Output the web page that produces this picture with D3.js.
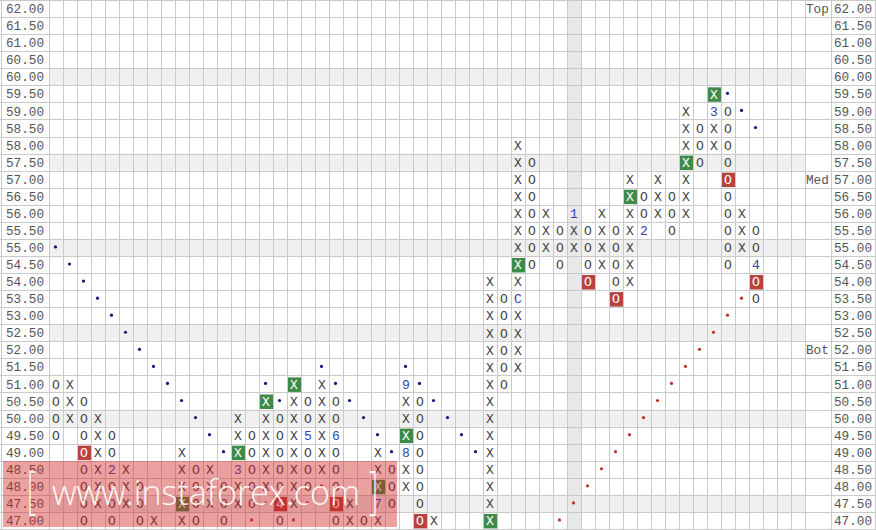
<!DOCTYPE html>
<html><head><meta charset="utf-8">
<script src="https://cdn.jsdelivr.net/npm/d3@7"></script>
<style>html,body{margin:0;padding:0;background:#fff;}svg{display:block;}</style>
</head><body><svg id="c" width="876" height="530"></svg>
<script>
// ---------- DATA ----------
const priceLabels = ["62.00","61.50","61.00","60.50","60.00","59.50","59.00","58.50","58.00","57.50","57.00","56.50","56.00","55.50","55.00","54.50","54.00","53.50","53.00","52.50","52.00","51.50","51.00","50.50","50.00","49.50","49.00","48.50","48.00","47.50","47.00"];
const highlightPrices = [60.0, 57.5, 55.0, 52.5, 50.0, 47.5];
const highlightColumns = [37];
const sideLabelText = ["Top", "Med", "Bot"];
const sideLabelPrice = [62.0, 57.0, 52.0];

// Point & figure columns
const colIndex = [0,1,2,3,4,5,6,7,9,10,11,12,13,14,15,16,17,18,19,20,21,22,23,24,25,26,27,31,32,33,34,35,36,37,38,39,40,41,42,43,44,45,46,47,48,49,50];
const colType  = ["O","X","O","X","O","X","O","X","X","O","X","O","X","O","X","O","X","O","X","O","X","O","X","O","X","O","X","X","O","X","O","X","O","X","O","X","O","X","O","X","O","X","O","X","O","X","O"];
const colLow   = [49.5,50.0,47.0,47.5,47.0,47.5,47.0,47.0,47.0,47.0,47.5,47.0,47.5,47.5,48.0,47.0,47.5,48.0,48.5,47.0,47.0,47.0,47.0,47.5,48.0,47.0,47.0,47.0,51.0,51.5,54.5,55.0,54.5,55.0,54.0,54.5,53.5,54.0,55.5,56.0,55.5,56.0,57.5,58.0,54.5,55.0,53.5];
const colHigh  = [51.0,51.0,50.5,50.0,49.5,48.5,48.0,47.0,49.0,48.5,48.5,48.0,50.0,49.5,50.5,50.0,51.0,50.5,51.0,50.5,47.5,47.0,49.0,48.5,51.0,50.5,47.0,54.0,53.5,58.0,57.5,56.0,55.5,56.0,55.5,56.0,55.5,57.0,56.5,57.0,56.5,59.0,58.5,59.5,59.0,56.0,55.5];

// Month markers (1-9, A-C)
const monthCol   = [4, 13, 16, 18, 20, 23, 25, 25, 33, 37, 42, 47, 50];
const monthPrice = [48.5, 48.5, 47.5, 49.5, 49.5, 47.5, 49.0, 51.0, 53.5, 56.0, 55.5, 59.0, 54.5];
const monthText  = ["2","3","4","5","6","7","8","9","C","1","2","3","4"];

// Highlighted boxes
const greenBoxCol   = [9, 13, 15, 17, 23, 25, 31, 33, 41, 45, 47];
const greenBoxPrice = [47.5, 49.0, 50.5, 51.0, 48.0, 49.5, 47.0, 54.5, 56.5, 57.5, 59.5];
const redBoxCol     = [2, 16, 20, 26, 38, 40, 48, 50];
const redBoxPrice   = [49.0, 47.5, 47.5, 47.0, 54.0, 53.5, 57.0, 54.0];

// Trend-line dots
const blueDotCol   = [0,1,2,3,4,5,6,7,8,9,10,11,12, 15,16, 19,20,21,22,23,24, 25,26,27,28,29,30, 48,49,50];
const blueDotPrice = [55.0,54.5,54.0,53.5,53.0,52.5,52.0,51.5,51.0,50.5,50.0,49.5,49.0, 51.0,50.5, 51.5,51.0,50.5,50.0,49.5,49.0, 51.5,51.0,50.5,50.0,49.5,49.0, 59.5,59.0,58.5];
const redDotCol    = [14,15, 17,18,19, 36,37,38,39,40,41,42,43,44,45,46,47,48,49];
const redDotPrice  = [47.0,47.5, 47.0,47.5,48.0, 47.0,47.5,48.0,48.5,49.0,49.5,50.0,50.5,51.0,51.5,52.0,52.5,53.0,53.5];

// ---------- RENDER ----------
const W = 876, H = 530, nCols = 54;
const svg = d3.select("#c");
const FONT = "'Liberation Mono','Courier New',monospace";
const prices = priceLabels.map(Number);
const step = 0.5;
const x = d3.scaleLinear().domain([0, nCols]).range([49, 805]);
const y = d3.scaleLinear().domain([d3.max(prices) + step/2, d3.min(prices) - step/2]).range([0, 529]);
const cx = k => x(k + 0.5);
const key = (c, p) => c + "_" + p.toFixed(2);

svg.append("rect").attr("width", W).attr("height", H).attr("fill", "#fff");

// highlight rows/col
svg.selectAll("rect.hr").data(highlightPrices).join("rect")
  .attr("x", x(0)).attr("width", x(nCols) - x(0))
  .attr("y", p => y(p + step/2)).attr("height", p => y(p - step/2) - y(p + step/2))
  .attr("fill", "#f0f0f0");
svg.selectAll("rect.hc").data(highlightColumns).join("rect")
  .attr("x", k => x(k)).attr("width", k => x(k + 1) - x(k))
  .attr("y", 0).attr("height", 529)
  .attr("fill", "#e8e8e8");

// grid
const grid = svg.append("g").attr("stroke", "#cacaca").attr("stroke-width", 1).attr("shape-rendering", "crispEdges");
const rowEdges = prices.map(p => y(p + step/2)).concat([y(d3.min(prices) - step/2)]);
grid.selectAll("line.h").data(rowEdges).join("line")
  .attr("x1", 0).attr("x2", W).attr("y1", d => Math.round(d) + 0.5).attr("y2", d => Math.round(d) + 0.5);
const colEdges = d3.range(nCols + 1).map(k => x(k)).concat([1, 831, 875]);
grid.selectAll("line.v").data(colEdges).join("line")
  .attr("y1", 0).attr("y2", 529.5).attr("x1", d => Math.round(d) + 0.5).attr("x2", d => Math.round(d) + 0.5);

// axis labels
const lab = svg.append("g").attr("font-family", FONT).attr("font-size", "12.7px").attr("fill", "#555");
lab.selectAll("text.l").data(priceLabels).join("text")
  .attr("x", 6).attr("y", d => y(+d) + 4.6).text(d => d);
lab.selectAll("text.r").data(priceLabels).join("text")
  .attr("x", 834).attr("y", d => y(+d) + 4.6).text(d => d);
lab.selectAll("text.s").data(sideLabelText).join("text")
  .attr("x", 806).attr("y", (d, i) => y(sideLabelPrice[i]) + 4.6).text(d => d);

// cells
const greenSet = new Set(greenBoxCol.map((c, i) => key(c, greenBoxPrice[i])));
const redSet = new Set(redBoxCol.map((c, i) => key(c, redBoxPrice[i])));
const monthMap = new Map(monthCol.map((c, i) => [key(c, monthPrice[i]), monthText[i]]));
const cells = [];
colIndex.forEach((c, i) => {
  for (let p = colLow[i]; p <= colHigh[i] + 1e-9; p += step) {
    const k = key(c, p);
    cells.push({c, p, t: colType[i], green: greenSet.has(k), red: redSet.has(k), m: monthMap.get(k)});
  }
});
svg.selectAll("rect.box").data(cells.filter(d => d.green || d.red)).join("rect")
  .attr("x", d => x(d.c) + 1).attr("width", d => x(d.c + 1) - x(d.c) - 1)
  .attr("y", d => y(d.p + step/2) + 2).attr("height", 14.5)
  .attr("fill", d => d.green ? "#3e8a4a" : "#b8433d");
svg.append("g").attr("font-family", FONT).attr("font-size", "13px").attr("text-anchor", "middle")
  .selectAll("text").data(cells).join("text")
  .attr("x", d => cx(d.c)).attr("y", d => y(d.p) + 4.8)
  .attr("fill", d => (d.green || d.red) ? "#fff" : (d.m ? "#2f3fae" : "#444"))
  .text(d => d.m || d.t);

// dots
svg.selectAll("circle.b").data(blueDotCol.map((c, i) => ({c, p: blueDotPrice[i]}))).join("circle")
  .attr("cx", d => cx(d.c) - 0.5).attr("cy", d => y(d.p) - 0.5).attr("r", 1.6).attr("fill", "#14147e");
svg.selectAll("circle.r").data(redDotCol.map((c, i) => ({c, p: redDotPrice[i]}))).join("circle")
  .attr("cx", d => cx(d.c) - 0.5).attr("cy", d => y(d.p) - 0.5).attr("r", 1.6).attr("fill", "#c0302a");

// watermark
svg.append("rect").attr("x", 3).attr("y", 461).attr("width", 394).attr("height", 66)
  .attr("fill", "rgb(210,30,30)").attr("fill-opacity", 0.42);
const wm = svg.append("g").attr("fill", "#fff").attr("fill-opacity", 0.92).attr("font-family", "'Open Sans','Liberation Sans',Arial,sans-serif").attr("font-weight", 300);
wm.append("text").attr("x", 27).attr("y", 508).attr("font-size", "52px")
  .attr("textLength", 9).attr("lengthAdjust", "spacingAndGlyphs").text("[");
wm.append("text").attr("x", 52).attr("y", 505).attr("font-size", "34px")
  .attr("textLength", 308).attr("lengthAdjust", "spacingAndGlyphs").text("www.instaforex.com");
wm.append("text").attr("x", 369).attr("y", 508).attr("font-size", "52px")
  .attr("textLength", 9).attr("lengthAdjust", "spacingAndGlyphs").text("]");
</script></body></html>
